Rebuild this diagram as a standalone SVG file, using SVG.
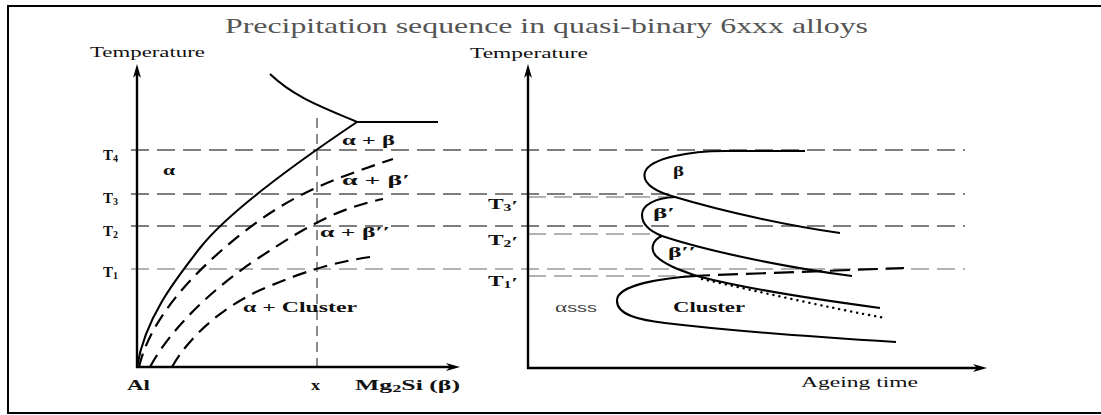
<svg xmlns="http://www.w3.org/2000/svg" width="1101" height="415" viewBox="0 0 1101 415">
<style>
text{font-family:"Liberation Serif","Times New Roman",serif;fill:#111}
.title{font-size:21px;fill:#555}
.ax{font-size:14px;fill:#111}
.lab{font-size:14px;font-weight:bold}
.tlab{font-size:15px;font-weight:bold}
.sub{font-size:10px}
.axis{stroke:#000;stroke-width:2.4;fill:none}
.tl{stroke:#555;stroke-width:1.3;stroke-dasharray:18 8;fill:none}
.tlt{stroke:#666;stroke-width:1;stroke-dasharray:18 8;fill:none}
.vx{stroke:#666;stroke-width:1.5;stroke-dasharray:10 6;fill:none}
.solid{stroke:#000;stroke-width:2.1;fill:none}
.bd{stroke:#000;stroke-width:2.2;stroke-dasharray:14 8;fill:none}
.bd2{stroke:#000;stroke-width:2.2;stroke-dasharray:20 8;fill:none}
.dot{stroke:#000;stroke-width:2.4;stroke-dasharray:0.1 6;stroke-linecap:round;fill:none}
</style>
<defs>
<marker id="arr" viewBox="0 0 14 8" refX="8" refY="4" markerWidth="14" markerHeight="8" orient="auto" markerUnits="userSpaceOnUse">
<path d="M0,0 L14,4 L0,8 L4,4 z" fill="#000"/>
</marker>
</defs>
<rect x="0" y="0" width="1101" height="415" fill="#fff"/>
<rect id="frame" x="8" y="6" width="1100" height="407" fill="none" stroke="#000" stroke-width="2"/>
<text id="title" class="title" x="225" y="33" textLength="643" lengthAdjust="spacingAndGlyphs">Precipitation sequence in quasi-binary 6xxx alloys</text>

<g id="guides">
<line class="tl" x1="131" y1="150" x2="965" y2="150"/>
<line class="tl" x1="131" y1="194" x2="965" y2="194"/>
<line class="tl" x1="131" y1="226" x2="965" y2="226"/>
<line class="tlt" x1="131" y1="269" x2="965" y2="269"/>
<line class="tlt" x1="528" y1="197" x2="668" y2="197"/>
<line class="tlt" x1="528" y1="234" x2="655" y2="234"/>
<line class="tlt" x1="528" y1="276" x2="692" y2="276"/>
<line class="vx" x1="317" y1="118" x2="317" y2="374"/>
</g>

<g id="left-axes">
<line class="axis" x1="137" y1="368" x2="137" y2="70" marker-end="url(#arr)"/>
<line class="axis" x1="136" y1="367" x2="454" y2="367" marker-end="url(#arr)"/>
</g>
<g id="right-axes">
<line class="axis" x1="528" y1="369" x2="528" y2="70" marker-end="url(#arr)"/>
<line class="axis" x1="527" y1="368" x2="981" y2="368" marker-end="url(#arr)"/>
</g>

<g id="left-curves">
<path class="solid" d="M270,74 C295,98 325,108 357,122 L438,122"/>
<path class="solid" d="M137,367 C145,318 175,280 200,248 S290,167 357,122"/>
<path class="bd" d="M139,367 C150,320 190,275 240,235 S330,180 393,159"/>
<path class="bd" d="M150,367 C170,330 210,290 260,257 S340,208 383,199"/>
<path class="bd" d="M172,367 C190,335 225,305 265,288 S335,262 370,257"/>
</g>

<g id="right-curves">
<path class="solid" d="M805,151 L725,151 C690,151 650,158 645,172 C641,185 660,193 675,197 C725,212 790,226 840,233"/>
<path class="solid" d="M675,197 C655,198 642,205 642,215 C642,226 652,232 662,236 C710,252 790,268 852,276"/>
<path class="solid" d="M662,236 C652,240 650,250 656,256 C665,265 680,270 697,276 C750,290 820,300 880,308"/>
<path class="solid" d="M697,276 C660,278 618,285 617,300 C616,315 640,320 665,323 C740,332 830,338 896,342"/>
<path class="dot" d="M702,279 C760,292 830,308 885,318"/>
<path class="bd2" d="M690,276 L904,268"/>
</g>

<g id="labels">
<text class="ax" x="90" y="57" textLength="115" lengthAdjust="spacingAndGlyphs">Temperature</text>
<text class="ax" x="470" y="58" textLength="118" lengthAdjust="spacingAndGlyphs">Temperature</text>
<text class="tlab" x="103" y="160" textLength="15" lengthAdjust="spacingAndGlyphs">T<tspan class="sub" dy="2">4</tspan></text>
<text class="tlab" x="103" y="203" textLength="15" lengthAdjust="spacingAndGlyphs">T<tspan class="sub" dy="2">3</tspan></text>
<text class="tlab" x="103" y="236" textLength="15" lengthAdjust="spacingAndGlyphs">T<tspan class="sub" dy="2">2</tspan></text>
<text class="tlab" x="103" y="277" textLength="15" lengthAdjust="spacingAndGlyphs">T<tspan class="sub" dy="2">1</tspan></text>
<text class="tlab" x="488" y="209" textLength="30" lengthAdjust="spacingAndGlyphs">T<tspan class="sub" dy="2">3</tspan>′</text>
<text class="tlab" x="488" y="245" textLength="30" lengthAdjust="spacingAndGlyphs">T<tspan class="sub" dy="2">2</tspan>′</text>
<text class="tlab" x="488" y="286" textLength="30" lengthAdjust="spacingAndGlyphs">T<tspan class="sub" dy="2">1</tspan>′</text>
<text class="lab" x="342" y="145" textLength="53" lengthAdjust="spacingAndGlyphs">α + β</text>
<text class="lab" x="163" y="175" textLength="12" lengthAdjust="spacingAndGlyphs">α</text>
<text class="lab" x="342" y="185" textLength="68" lengthAdjust="spacingAndGlyphs">α + β′</text>
<text class="lab" x="320" y="237" textLength="70" lengthAdjust="spacingAndGlyphs">α + β′′</text>
<text class="lab" x="243" y="312" textLength="114" lengthAdjust="spacingAndGlyphs">α + Cluster</text>
<text class="lab" x="673" y="176" textLength="11" lengthAdjust="spacingAndGlyphs">β</text>
<text class="lab" x="653" y="218" textLength="22" lengthAdjust="spacingAndGlyphs">β′</text>
<text class="lab" x="668" y="257" textLength="28" lengthAdjust="spacingAndGlyphs">β′′</text>
<text class="lab" x="673" y="312" textLength="72" lengthAdjust="spacingAndGlyphs">Cluster</text>
<text x="555" y="312" style="font-size:14px;fill:#444" textLength="42" lengthAdjust="spacingAndGlyphs">α<tspan style="font-family:'Liberation Sans',Arial,sans-serif;font-size:12px">sss</tspan></text>
<text class="lab" x="127" y="390" textLength="23" lengthAdjust="spacingAndGlyphs">Al</text>
<text class="lab" x="311" y="390" textLength="9" lengthAdjust="spacingAndGlyphs">x</text>
<text class="lab" x="355" y="390" textLength="105" lengthAdjust="spacingAndGlyphs">Mg<tspan class="sub" dy="2">2</tspan><tspan dy="-2">Si (β)</tspan></text>
<text class="ax" x="801" y="387" textLength="117" lengthAdjust="spacingAndGlyphs">Ageing time</text>
</g>
</svg>
